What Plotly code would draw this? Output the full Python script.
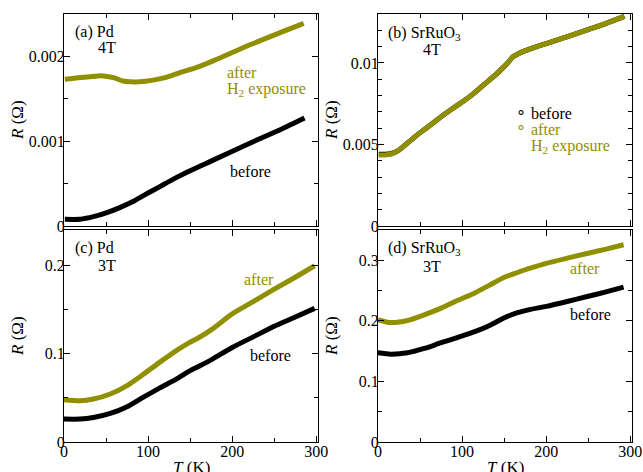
import plotly.graph_objects as go

# ---------------- data ----------------
# (a) Pd 4T
T_a_before = [1, 19, 35, 51, 67, 82, 98, 114, 130, 148, 178, 217, 257, 286]
R_a_before = [0.000079, 0.000080, 0.000110, 0.000158, 0.000220, 0.000288, 0.000379, 0.000465,
              0.000553, 0.000643, 0.000780, 0.000959, 0.001136, 0.001274]
T_a_after = [1, 10, 19, 30, 40, 47, 59, 70, 79, 90, 106, 120, 138, 158, 178, 217, 257, 285]
R_a_after = [0.00173, 0.00174, 0.00175, 0.00176, 0.00177, 0.00177, 0.00175, 0.00171, 0.00170, 0.00170,
             0.00172, 0.00175, 0.00181, 0.00187, 0.00195, 0.00212, 0.00228, 0.00239]

# (b) SrRuO3 4T
T_b = [1, 8, 15, 25, 37, 49, 63, 77, 90, 101, 115, 128, 140, 148, 155, 160, 164, 168,
       185, 208, 228, 247, 270, 293]
R_b_before = [0.00440, 0.00440, 0.00443, 0.00466, 0.00517, 0.00568, 0.00622, 0.00677, 0.00725, 0.00763,
              0.00818, 0.00876, 0.00928, 0.00968, 0.01005, 0.01036, 0.01048, 0.01060,
              0.01094, 0.01132, 0.01166, 0.01200, 0.01240, 0.01285]
R_b_after = [0.00435, 0.00436, 0.00441, 0.00466, 0.00517, 0.00568, 0.00622, 0.00677, 0.00725, 0.00763,
             0.00818, 0.00876, 0.00928, 0.00968, 0.01005, 0.01036, 0.01048, 0.01060,
             0.01094, 0.01132, 0.01166, 0.01200, 0.01240, 0.01285]

# (c) Pd 3T
T_c = [0, 19, 35, 55, 75, 94, 114, 134, 149, 160, 175, 200, 225, 250, 275, 298]
R_c_before = [0.0259, 0.0259, 0.0277, 0.0323, 0.0399, 0.0505, 0.0612, 0.0715, 0.0802, 0.0855,
              0.0930, 0.1070, 0.1190, 0.1310, 0.1415, 0.1513]
R_c_after = [0.0479, 0.0467, 0.0487, 0.0544, 0.0639, 0.0764, 0.0904, 0.1038, 0.1125, 0.1180,
             0.1270, 0.1450, 0.1590, 0.1730, 0.1865, 0.1995]

# (d) SrRuO3 3T
T_d = [0, 15, 35, 55, 75, 95, 115, 134, 149, 165, 180, 200, 225, 250, 270, 292]
R_d_before = [0.1472, 0.1450, 0.1472, 0.1544, 0.1639, 0.1728, 0.1822, 0.1933, 0.2044, 0.2130,
              0.2185, 0.2239, 0.2320, 0.2406, 0.2475, 0.2556]
R_d_after = [0.2017, 0.1972, 0.2006, 0.2100, 0.2211, 0.2339, 0.2461, 0.2600, 0.2711, 0.2794,
             0.2865, 0.2950, 0.3035, 0.3117, 0.3180, 0.3256]

x_ticks = [0, 100, 200, 300]

# ---------------- style ----------------
W, H = 643, 472
FONT = "Liberation Serif, Times New Roman, Times, serif"
OLIVE = "#8f8f00"
BLACK = "#000000"
LW = 5

fig = go.Figure()

def add(x, y, color, xa, ya):
    fig.add_trace(go.Scatter(x=x, y=y, mode="lines", line=dict(color=color, width=LW, shape="spline", smoothing=0.6),
                             xaxis=xa, yaxis=ya, showlegend=False, hoverinfo="x+y"))

add(T_a_before, R_a_before, BLACK, "x", "y")
add(T_a_after, R_a_after, OLIVE, "x", "y")
add(T_b, R_b_before, BLACK, "x2", "y2")
add(T_b, R_b_after, OLIVE, "x2", "y2")
add(T_c, R_c_before, BLACK, "x3", "y3")
add(T_c, R_c_after, OLIVE, "x3", "y3")
add(T_d, R_d_before, BLACK, "x4", "y4")
add(T_d, R_d_after, OLIVE, "x4", "y4")

def px_x(p):
    return p / W

def px_y(p):
    return 1 - p / H

XL = [px_x(64), px_x(318)]
XR = [px_x(378), px_x(632)]
YT = [px_y(226), px_y(14)]
YB = [px_y(442), px_y(230)]

common = dict(showline=True, linecolor="black", linewidth=1, mirror="ticks", ticks="inside",
              ticklen=6, tickcolor="black", tickwidth=1, showgrid=False, zeroline=False,
              automargin=False, ticklabelstandoff=-5, ticklabeloverflow="allow",
              tickfont=dict(family=FONT, size=16, color="black"))

def xax(domain, anchor, labels):
    return dict(domain=domain, anchor=anchor, range=[0, 302], tickvals=x_ticks,
                showticklabels=labels,
                minor=dict(ticks="inside", ticklen=4, tickcolor="black", dtick=50, tick0=0),
                **common)

def yax(domain, anchor, rng, dtick, mdtick):
    return dict(domain=domain, anchor=anchor, range=rng, dtick=dtick, tick0=0,
                minor=dict(ticks="inside", ticklen=4, tickcolor="black", dtick=mdtick, tick0=0),
                **common)

fig.update_layout(
    width=W, height=H, margin=dict(l=0, r=0, t=0, b=0, autoexpand=False),
    paper_bgcolor="white", plot_bgcolor="white",
    font=dict(family=FONT, size=16, color="black"),
    xaxis=xax(XL, "y", False), yaxis=yax(YT, "x", [0, 0.0025], 0.001, 0.0005),
    xaxis2=xax(XR, "y2", False), yaxis2=yax(YT, "x2", [0, 0.013], 0.005, 0.001),
    xaxis3=xax(XL, "y3", True), yaxis3=yax(YB, "x3", [0, 0.24], 0.1, 0.05),
    xaxis4=xax(XR, "y4", True), yaxis4=yax(YB, "x4", [0, 0.35], 0.1, 0.05),
)

anns = []

def txt(x, y, text, color=BLACK, size=16, xanchor="left", angle=0):
    anns.append(dict(x=px_x(x), y=px_y(y), xref="paper", yref="paper", text=text, showarrow=False,
                     xanchor=xanchor, yanchor="middle", textangle=angle,
                     font=dict(family=FONT, size=size, color=color)))

# panel labels
txt(73, 32, "(a) Pd")
txt(96, 48, "4T")
txt(386, 33, "(b) SrRuO<sub>3</sub>")
txt(421, 49, "4T")
txt(73, 248, "(c) Pd")
txt(96, 265, "3T")
txt(386, 248, "(d) SrRuO<sub>3</sub>")
txt(421, 266, "3T")

# curve labels
txt(225, 72, "after", OLIVE)
txt(225, 89, "H<sub>2</sub> exposure", OLIVE)
txt(228, 172, "before")
txt(242, 279, "after", OLIVE)
txt(248, 355, "before")
txt(568, 268, "after", OLIVE)
txt(568, 314, "before")

# legend in (b)
txt(521, 112, "∘", BLACK, 16, "center")
txt(529, 113, "before")
txt(521, 128, "∘", OLIVE, 16, "center")
txt(529, 129, "after", OLIVE)
txt(529, 147, "H<sub>2</sub> exposure", OLIVE)

# axis titles
for cx, cy in [(17, 120), (331, 120), (17, 336), (331, 336)]:
    txt(cx, cy, "<i>R</i> (Ω)", BLACK, 17, "center", -90)
for cx in [191, 505]:
    txt(cx, 467, "<i>T</i> (K)", BLACK, 17, "center")

fig.update_layout(annotations=anns)

fig.write_html(
    "out.html",
    config={"displayModeBar": False},
    post_script="document.body.style.margin='0';document.body.style.overflow='hidden';",
)
